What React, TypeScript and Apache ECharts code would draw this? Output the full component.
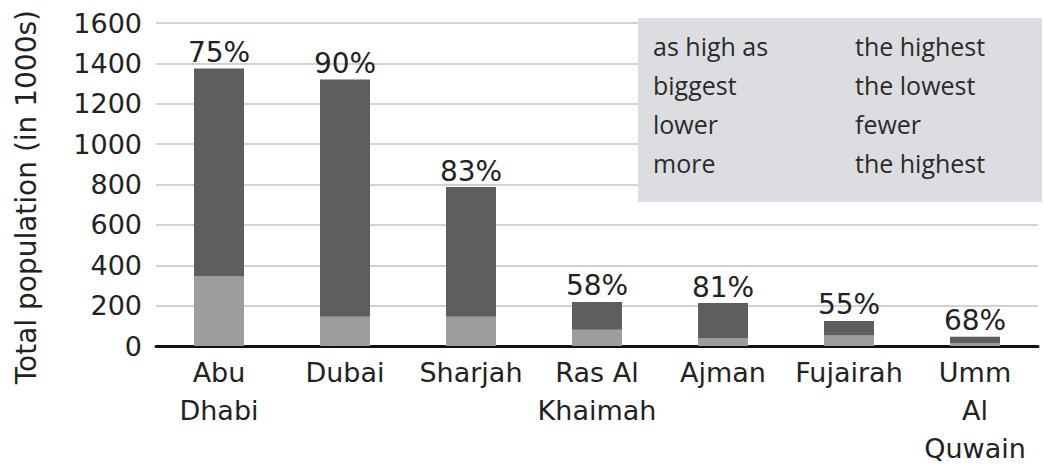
import React, { useEffect, useRef } from "react";
import * as echarts from "echarts";

const categories = ["Abu\nDhabi", "Dubai", "Sharjah", "Ras Al\nKhaimah", "Ajman", "Fujairah", "Umm\nAl\nQuwain"];
const nationals = [344, 145, 145, 80, 40, 52, 15];
const expatriates = [1031, 1175, 642, 138, 173, 72, 31];
const percentLabels = ["75%", "90%", "83%", "58%", "81%", "55%", "68%"];
const yTicks = [0, 200, 400, 600, 800, 1000, 1200, 1400, 1600];
const boxWordsLeft = ["as high as", "biggest", "lower", "more"];
const boxWordsRight = ["the highest", "the lowest", "fewer", "the highest"];
const yAxisTitle = "Total population (in 1000s)";

const FONT = "DejaVu Sans";

export default function App() {
  const ref = useRef<HTMLDivElement>(null);
  useEffect(() => {
    if (!ref.current) return;
    const chart = echarts.init(ref.current, undefined, { renderer: "svg" });
    const rowY = [50, 89, 128, 167];
    const boxTexts: any[] = [];
    boxWordsLeft.forEach((w, i) => {
      boxTexts.push({
        type: "text",
        left: 653,
        top: rowY[i] - 17,
        style: { text: w, font: `25px "Open Sans"`, fill: "#2b2b2b" },
        z: 101,
      });
    });
    boxWordsRight.forEach((w, i) => {
      boxTexts.push({
        type: "text",
        left: 855,
        top: rowY[i] - 17,
        style: { text: w, font: `25px "Open Sans"`, fill: "#2b2b2b" },
        z: 101,
      });
    });
    chart.setOption({
      animation: false,
      backgroundColor: "#ffffff",
      grid: { left: 156, right: 6, top: 23, bottom: 121 },
      xAxis: {
        type: "category",
        data: categories,
        axisLine: { show: true, lineStyle: { color: "#111", width: 3 } },
        axisTick: { show: false },
        axisLabel: {
          margin: 7,
          fontFamily: FONT,
          fontSize: 27,
          lineHeight: 38,
          color: "#222",
          interval: 0,
        },
      },
      yAxis: {
        type: "value",
        min: 0,
        max: 1600,
        interval: 200,
        axisLine: { show: false },
        axisTick: { show: false },
        axisLabel: {
          margin: 14,
          fontFamily: FONT,
          fontSize: 27,
          color: "#222",
          formatter: (v: number) => (yTicks.includes(v) ? String(v) : ""),
        },
        splitLine: { show: true, lineStyle: { color: "#d2d2d2", width: 2 } },
      },
      series: [
        {
          type: "bar",
          stack: "pop",
          data: nationals,
          barWidth: 50,
          itemStyle: { color: "#9d9d9f" },
        },
        {
          type: "bar",
          stack: "pop",
          data: expatriates,
          barWidth: 50,
          itemStyle: { color: "#5e5e61" },
          label: {
            show: true,
            position: "top",
            distance: 2,
            fontFamily: FONT,
            fontSize: 28,
            color: "#222",
            formatter: (p: any) => percentLabels[p.dataIndex],
          },
        },
      ],
      graphic: [
        {
          type: "text",
          left: 12,
          top: 10,
          style: { text: yAxisTitle, font: `28px "${FONT}"`, fill: "#222" },
          rotation: Math.PI / 2,
          x: 12,
          y: 397,
          originX: 0,
          originY: 0,
        },
        {
          type: "rect",
          shape: { x: 638, y: 18, width: 404, height: 184 },
          style: { fill: "#dcdde0" },
          z: 100,
        },
        ...boxTexts,
      ],
    });
    return () => chart.dispose();
  }, []);
  return (
    <div
      ref={ref}
      style={{ position: "fixed", left: 0, top: 0, width: 1044, height: 467, background: "#fff" }}
    />
  );
}
